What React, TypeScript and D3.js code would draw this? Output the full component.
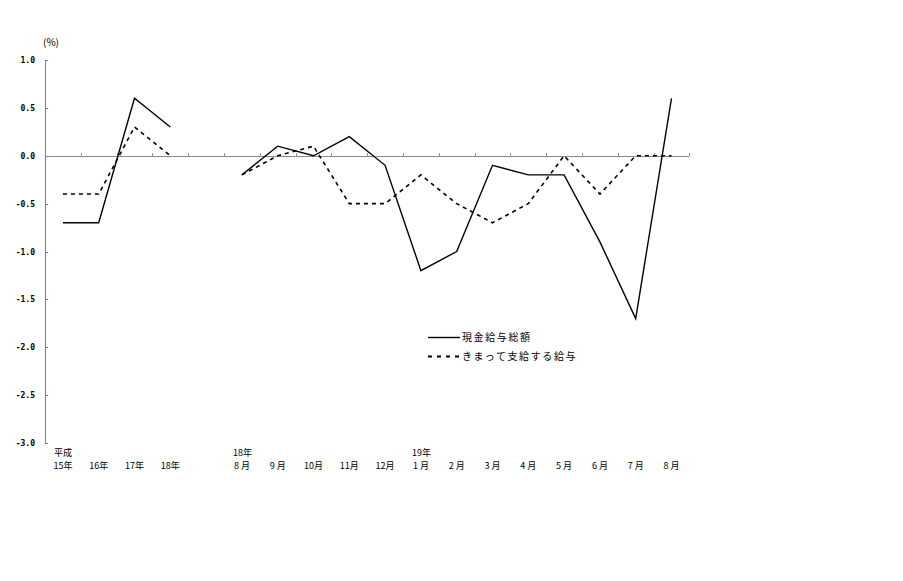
import React from "react";
import * as d3 from "d3";

const categories = ["15年", "16年", "17年", "18年", "", "8 月", "9 月", "10月", "11月", "12月", "1 月", "2 月", "3 月", "4 月", "5 月", "6 月", "7 月", "8 月"];
const headers = ["平成", "", "", "", "", "18年", "", "", "", "", "19年", "", "", "", "", "", "", ""];
const cash: (number | null)[] = [-0.7, -0.7, 0.6, 0.3, null, -0.2, 0.1, 0.0, 0.2, -0.1, -1.2, -1.0, -0.1, -0.2, -0.2, -0.9, -1.7, 0.6];
const regular: (number | null)[] = [-0.4, -0.4, 0.3, 0.0, null, -0.2, 0.0, 0.1, -0.5, -0.5, -0.2, -0.5, -0.7, -0.5, 0.0, -0.4, 0.0, 0.0];
const yTicks = [1.0, 0.5, 0.0, -0.5, -1.0, -1.5, -2.0, -2.5, -3.0];
const seriesNames = ["現金給与総額", "きまって支給する給与"];

export default function App() {
  const W = 903, H = 581;
  const x = d3.scaleBand<number>().domain(categories.map((_, i) => i)).range([45, 689.4]).paddingInner(0).paddingOuter(0);
  const y = d3.scaleLinear().domain([-3, 1]).range([443, 60]);
  const cx = (i: number) => (x(i) as number) + x.bandwidth() / 2;
  const line = d3.line<number | null>()
    .defined((d) => d !== null)
    .x((_, i) => cx(i))
    .y((d) => y(d as number));
  const mono = "'DejaVu Sans Mono', monospace";
  const jp = "'Noto Sans CJK JP', sans-serif";
  const boundaries = d3.range(categories.length + 1).map((k) => 45 + k * x.bandwidth());
  return (
    <svg width={W} height={H} style={{ position: "absolute", left: 0, top: 0, background: "#fff" }}>
      <rect x={0} y={0} width={W} height={H} fill="#fff" />
      {/* y axis */}
      <line x1={45.5} x2={45.5} y1={60} y2={443} stroke="#808080" strokeWidth={1} />
      {yTicks.map((t) => (
        <g key={t}>
          <line x1={45} x2={48} y1={Math.round(y(t)) + 0.5} y2={Math.round(y(t)) + 0.5} stroke="#808080" />
          <text x={35} y={y(t) + 3} fontFamily={mono} fontSize={8} fontWeight="bold" textAnchor="end" fill="#000">
            {t.toFixed(1)}
          </text>
        </g>
      ))}
      <text x={43} y={46} fontFamily={jp} fontSize={10} fill="#000">(%)</text>
      {/* zero line */}
      <line x1={45} x2={689.4} y1={Math.round(y(0)) + 0.5} y2={Math.round(y(0)) + 0.5} stroke="#8a8a8a" strokeWidth={1} />
      {boundaries.slice(1).map((bx, k) => (
        <line key={k} x1={Math.round(bx) + 0.5} x2={Math.round(bx) + 0.5} y1={y(0) - 2.5} y2={y(0)} stroke="#808080" />
      ))}
      {/* x labels */}
      {categories.map((c, i) => (
        <g key={i}>
          {headers[i] && (
            <text x={cx(i) - 9} y={456} fontFamily={jp} fontSize={9} fill="#000">{headers[i]}</text>
          )}
          {c && (
            <text x={cx(i)} y={469} fontFamily={jp} fontSize={9} textAnchor="middle" fill="#000">{c}</text>
          )}
        </g>
      ))}
      {/* series */}
      <path d={line(regular) || ""} fill="none" stroke="#000" strokeWidth={1.6} strokeDasharray="4,4" />
      <path d={line(cash) || ""} fill="none" stroke="#000" strokeWidth={1.4} />
      {/* legend */}
      <line x1={428} x2={460} y1={337.5} y2={337.5} stroke="#000" strokeWidth={1.4} />
      <text x={462} y={341} fontFamily={jp} fontSize={10} letterSpacing={1.6} fill="#000">{seriesNames[0]}</text>
      <line x1={428} x2={460} y1={356.5} y2={356.5} stroke="#000" strokeWidth={1.8} strokeDasharray="4,5" />
      <text x={462} y={360} fontFamily={jp} fontSize={10} letterSpacing={1.6} fill="#000">{seriesNames[1]}</text>
    </svg>
  );
}
